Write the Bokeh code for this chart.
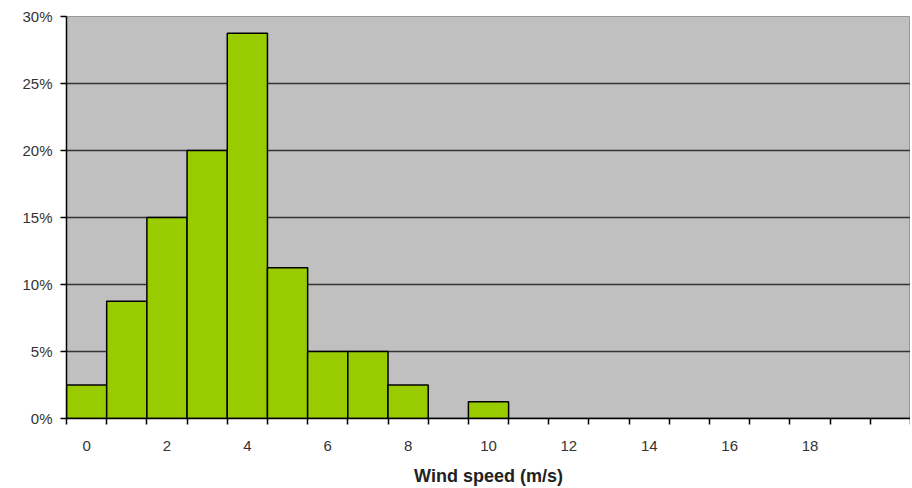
from bokeh.plotting import figure
from bokeh.models import FixedTicker, NumeralTickFormatter, Range1d
from bokeh.embed import file_html
from bokeh.resources import INLINE

# Data
speeds = list(range(0, 21))
shares = [0.025, 0.0875, 0.15, 0.20, 0.2875, 0.1125, 0.05, 0.05, 0.025, 0.0, 0.0125,
          0, 0, 0, 0, 0, 0, 0, 0, 0, 0]
x_tick_labels = [0, 2, 4, 6, 8, 10, 12, 14, 16, 18]
y_ticks = [0, 0.05, 0.10, 0.15, 0.20, 0.25, 0.30]

p = figure(width=910, height=488, output_backend="svg", toolbar_location=None,
           x_range=Range1d(-0.5, 20.5), y_range=Range1d(0, 0.30),
           min_border_left=66, min_border_right=0, min_border_top=16, min_border_bottom=70)

p.border_fill_color = "white"
p.outline_line_color = "#999999"
p.background_fill_color = "#C0C0C0"

p.vbar(x=speeds, top=shares, width=1.0, bottom=0,
       fill_color="#99CC00", line_color="#000000", line_width=1.5)

# grid
p.xgrid.grid_line_color = None
p.ygrid.ticker = FixedTicker(ticks=y_ticks[1:-1])
p.ygrid.grid_line_color = "#333333"
p.ygrid.grid_line_width = 1.5

# x axis
p.xaxis.ticker = FixedTicker(ticks=x_tick_labels,
                             minor_ticks=[s - 0.5 for s in speeds] + [20.5])
p.xaxis.major_tick_line_color = None
p.xaxis.minor_tick_line_color = "#000000"
p.xaxis.minor_tick_line_width = 1.5
p.xaxis.minor_tick_out = 6
p.xaxis.minor_tick_in = 0
p.xaxis.axis_line_color = "#000000"
p.xaxis.axis_line_width = 1.5
p.xaxis.major_label_text_font = "Liberation Sans"
p.xaxis.major_label_text_font_size = "15px"
p.xaxis.major_label_text_color = "#333333"
p.xaxis.major_label_standoff = 16
p.xaxis.axis_label = "Wind speed (m/s)"
p.xaxis.axis_label_text_font = "Liberation Sans"
p.xaxis.axis_label_text_font_style = "bold"
p.xaxis.axis_label_text_font_size = "18px"
p.xaxis.axis_label_text_color = "#222222"
p.xaxis.axis_label_standoff = 12

# y axis
p.yaxis.ticker = FixedTicker(ticks=y_ticks)
p.yaxis.formatter = NumeralTickFormatter(format="0%")
p.yaxis.major_tick_out = 6
p.yaxis.major_tick_in = 0
p.yaxis.major_tick_line_width = 1.5
p.yaxis.minor_tick_line_color = None
p.yaxis.axis_line_color = "#000000"
p.yaxis.axis_line_width = 1.5
p.yaxis.major_label_text_font = "Liberation Sans"
p.yaxis.major_label_text_font_size = "15px"
p.yaxis.major_label_text_color = "#333333"
p.yaxis.major_label_standoff = 8

open("out.html", "w").write(file_html(p, INLINE))
